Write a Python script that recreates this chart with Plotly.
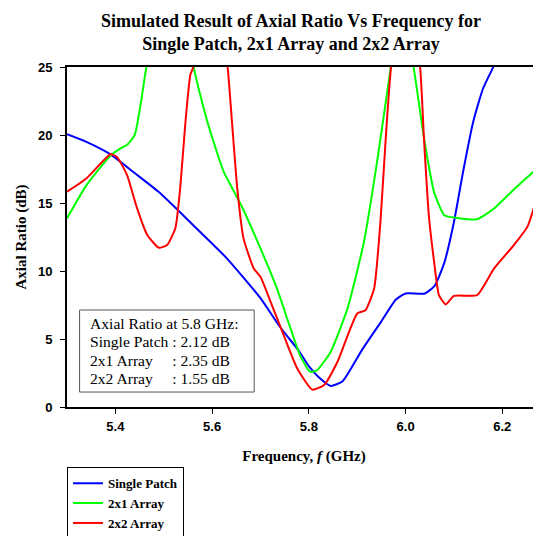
import plotly.graph_objects as go

# ---- data ----
freq_single = [5.30, 5.34, 5.39, 5.44, 5.49, 5.56, 5.63, 5.70, 5.74, 5.78, 5.80, 5.82, 5.845,
               5.87, 5.91, 5.95, 5.98, 6.00, 6.04, 6.06, 6.08, 6.10, 6.12, 6.14, 6.16, 6.18, 6.22, 6.28]
ar_single = [20.06, 19.5, 18.58, 17.2, 15.8, 13.4, 10.95, 8.0, 5.9, 4.1, 3.0, 2.2, 1.55,
             1.9, 4.2, 6.3, 7.9, 8.35, 8.35, 8.9, 10.6, 13.6, 17.5, 21.0, 23.4, 24.9, 28.0, 31.0]

freq_2x1 = [5.30, 5.34, 5.39, 5.41, 5.425, 5.44, 5.452, 5.464, 5.49, 5.52, 5.55, 5.562, 5.59,
            5.624, 5.66, 5.70, 5.734, 5.76, 5.783, 5.803, 5.817, 5.845, 5.88, 5.914, 5.941,
            5.969, 5.99, 6.017, 6.038, 6.059, 6.08, 6.107, 6.148, 6.183, 6.224, 6.28]
ar_2x1 = [13.87, 16.3, 18.5, 19.0, 19.3, 20.0, 22.2, 25.0, 30.0, 33.0, 30.0, 25.0, 21.0,
          17.3, 14.85, 11.66, 8.72, 6.0, 3.7, 2.58, 2.7, 4.05, 7.25, 12.15, 18.0,
          24.9, 30.0, 24.9, 19.8, 15.8, 14.1, 13.9, 13.8, 14.6, 16.0, 17.8]

freq_2x2 = [5.30, 5.34, 5.39, 5.403, 5.424, 5.445, 5.466, 5.49, 5.507, 5.524, 5.534, 5.545,
            5.555, 5.561, 5.58, 5.61, 5.632, 5.641, 5.652, 5.665, 5.686, 5.70, 5.721, 5.748,
            5.776, 5.807, 5.831, 5.859, 5.90, 5.917, 5.935, 5.948, 5.959, 5.97, 6.00, 6.03,
            6.038, 6.048, 6.059, 6.069, 6.083, 6.10, 6.148, 6.183, 6.224, 6.252, 6.28]
ar_2x2 = [15.83, 16.8, 18.58, 18.4, 17.06, 14.6, 12.64, 11.71, 11.91, 13.14, 16.08, 21.0,
          24.43, 25.0, 32.0, 30.0, 25.0, 21.0, 16.08, 12.4, 10.19, 9.57, 7.73, 5.28,
          2.83, 1.28, 1.6, 3.31, 6.88, 7.12, 8.72, 13.62, 19.76, 25.0, 32.0, 25.0,
          19.76, 14.12, 10.68, 8.23, 7.54, 8.17, 8.23, 10.19, 11.91, 13.26, 16.45]

series_names = ["Single Patch", "2x1 Array", "2x2 Array"]
series_colors = ["#0000FF", "#00FF00", "#FF0000"]

note_lines = ["Axial Ratio at 5.8 GHz:",
              "Single Patch : 2.12 dB",
              "2x1 Array\u00a0\u00a0\u00a0\u00a0\u00a0: 2.35 dB",
              "2x2 Array\u00a0\u00a0\u00a0\u00a0\u00a0: 1.55 dB"]
note_line_y = [6.14, 4.79, 3.44, 2.09]   # data-space centre of each note line
note_box = dict(x0=5.326, x1=5.687, y0=1.10, y1=7.13)

serif = "Liberation Serif"
sans = "Liberation Sans"

fig = go.Figure()
for f, a, n, c in zip([freq_single, freq_2x1, freq_2x2], [ar_single, ar_2x1, ar_2x2],
                      series_names, series_colors):
    fig.add_trace(go.Scatter(x=f, y=a, mode="lines", name=n,
                             line=dict(color=c, width=2, shape="spline", smoothing=0.5)))

fig.add_shape(type="rect", xref="x", yref="y", **note_box,
              line=dict(color="#555555", width=1), fillcolor="white", layer="above")
for txt, yy in zip(note_lines, note_line_y):
    fig.add_annotation(x=5.3425, y=yy, xref="x", yref="y", xanchor="left", yanchor="middle",
                       text=txt, align="left", showarrow=False,
                       font=dict(family=serif, size=15.6, color="black"))

# the page body adds an 8px offset, so the figure is 8px smaller than the window
fig.update_layout(
    template="none",
    width=533, height=528,
    margin=dict(l=59, r=0, t=59, b=129, autoexpand=False),
    paper_bgcolor="white", plot_bgcolor="white",
    title=dict(text="<b>Simulated Result of Axial Ratio Vs Frequency for<br>Single Patch, 2x1 Array and 2x2 Array</b>",
               x=0.531, xanchor="center", y=0.9641, yanchor="middle",
               font=dict(family=serif, size=18, color="black")),
    xaxis=dict(range=[5.3, 6.28], tick0=5.4, dtick=0.2, tickformat=".1f", automargin=False,
               showline=True, linecolor="black", linewidth=2, mirror=True,
               ticks="outside", ticklen=5, tickwidth=1, tickcolor="black",
               ticklabelstandoff=1,
               showgrid=False, zeroline=False,
               tickfont=dict(family=sans, size=13, color="black", weight="bold"),
               title=dict(text="<b>Frequency, <i>f</i> (GHz)</b>", standoff=18,
                          font=dict(family=serif, size=15, color="black"))),
    yaxis=dict(range=[0, 25], dtick=5, automargin=False,
               showline=True, linecolor="black", linewidth=2,
               ticks="outside", ticklen=5, tickwidth=1, tickcolor="black",
               ticklabelstandoff=5,
               showgrid=False, zeroline=False,
               tickfont=dict(family=sans, size=13, color="black", weight="bold"),
               title=dict(text="<b>Axial Ratio (dB)</b>",
                          font=dict(family=serif, size=15, color="black"))),
    legend=dict(x=0, y=-0.177, xanchor="left", yanchor="top", xref="paper", yref="paper",
                bordercolor="black", borderwidth=1, bgcolor="white",
                font=dict(family=serif, size=13, color="black", weight="bold"),
                tracegroupgap=0),
    showlegend=True,
)

fig.write_html("out.html")
